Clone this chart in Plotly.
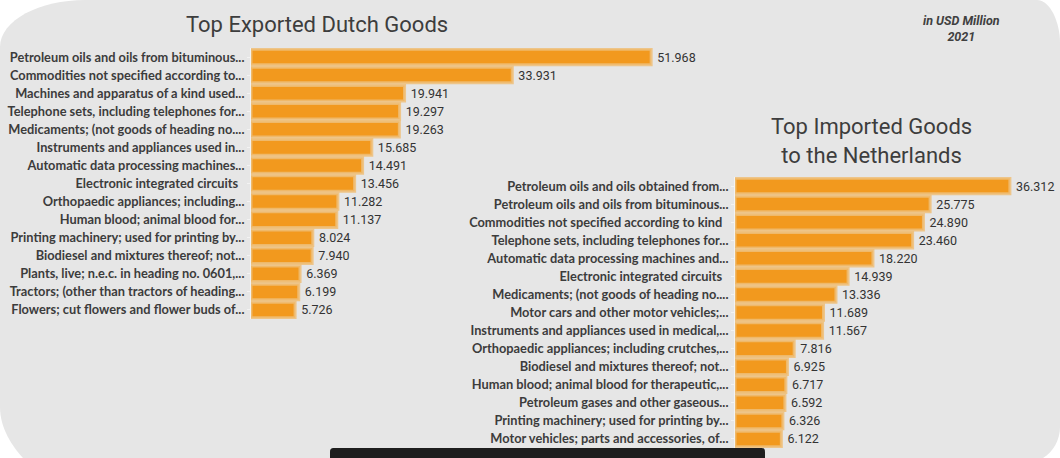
import plotly.graph_objects as go

# ---------------- data ----------------
export_goods = [
    "Petroleum oils and oils from bituminous...",
    "Commodities not specified according to...",
    "Machines and apparatus of a kind used...",
    "Telephone sets, including telephones for...",
    "Medicaments; (not goods of heading no....",
    "Instruments and appliances used in...",
    "Automatic data processing machines...",
    "Electronic integrated circuits\u00a0\u00a0",
    "Orthopaedic appliances; including...",
    "Human blood; animal blood for...",
    "Printing machinery; used for printing by...",
    "Biodiesel and mixtures thereof; not...",
    "Plants, live; n.e.c. in heading no. 0601,...",
    "Tractors; (other than tractors of heading...",
    "Flowers; cut flowers and flower buds of...",
]
export_values = [51.968, 33.931, 19.941, 19.297, 19.263, 15.685, 14.491, 13.456,
                 11.282, 11.137, 8.024, 7.940, 6.369, 6.199, 5.726]

import_goods = [
    "Petroleum oils and oils obtained from...",
    "Petroleum oils and oils from bituminous...",
    "Commodities not specified according to kind\u00a0\u00a0",
    "Telephone sets, including telephones for...",
    "Automatic data processing machines and...",
    "Electronic integrated circuits\u00a0\u00a0",
    "Medicaments; (not goods of heading no....",
    "Motor cars and other motor vehicles;...",
    "Instruments and appliances used in medical,...",
    "Orthopaedic appliances; including crutches,...",
    "Biodiesel and mixtures thereof; not...",
    "Human blood; animal blood for therapeutic,...",
    "Petroleum gases and other gaseous...",
    "Printing machinery; used for printing by...",
    "Motor vehicles; parts and accessories, of...",
]
import_values = [36.312, 25.775, 24.890, 23.460, 18.220, 14.939, 13.336, 11.689,
                 11.567, 7.816, 6.925, 6.717, 6.592, 6.326, 6.122]

title_export = "Top Exported Dutch Goods"
title_import = "Top Imported Goods<br>to the Netherlands"
subtitle_lines = ["in USD Million", "2021"]

# ---------------- styling ----------------
W, H = 1060, 458
BAR = "#F2991E"
GLOW = "rgba(238,190,120,0.85)"
BG = "#E6E6E6"
TXT = "#3C3C3C"


def px(x):
    return x / W


def py(y):
    return 1 - y / H


fig = go.Figure()

common = dict(
    orientation="h",
    marker=dict(color=BAR, line=dict(color=GLOW, width=3)),
    texttemplate="\u00a0%{x:.3f}",
    textposition="outside",
    textfont=dict(family="Roboto", size=12.5, color="#333333"),
    cliponaxis=False,
    hoverinfo="skip",
    showlegend=False,
)

fig.add_trace(go.Bar(x=export_values, y=export_goods, xaxis="x", yaxis="y", **common))
fig.add_trace(go.Bar(x=import_values, y=import_goods, xaxis="x2", yaxis="y2", **common))

xcommon = dict(showgrid=False, zeroline=False, showticklabels=False, showline=False, ticks="", fixedrange=True)
ycommon = dict(type="category", autorange="reversed", showgrid=False, zeroline=False,
               showline=True, linecolor="#F3F3F3", linewidth=1,
               ticks="outside", ticklen=3, tickcolor="#F3F3F3",
               tickfont=dict(family="Lato", size=12.8, color=TXT, weight="bold"),
               ticklabelstandoff=0, fixedrange=True)


def P(x, y):
    return f"{px(x):.5f},{py(y):.5f}"


bg_path = (
    f"M {P(85,0)} L {P(1037,0)} C {P(1050,0)} {P(1060,22)} {P(1060,43)} "
    f"L {P(1060,427)} C {P(1060,440)} {P(1053,452)} {P(1043,458)} "
    f"L {P(23,458)} C {P(12,446)} {P(0,428)} {P(0,407)} "
    f"L {P(0,47)} C {P(0,20)} {P(40,0)} {P(85,0)} Z"
)
black_path = (
    f"M {P(330,458)} L {P(330,452)} C {P(330,449)} {P(331,448)} {P(334,448)} "
    f"L {P(761,448)} C {P(764,448)} {P(765,449)} {P(765,452)} L {P(765,458)} Z"
)

fig.update_layout(
    width=W, height=H,
    margin=dict(l=0, r=0, t=0, b=0),
    paper_bgcolor="white",
    plot_bgcolor="rgba(0,0,0,0)",
    bargap=0.14,
    xaxis=dict(domain=[px(251), px(251 + 7.7 * 60)], range=[0, 60], anchor="y", **xcommon),
    yaxis=dict(domain=[py(319), py(48)], anchor="x", **ycommon),
    xaxis2=dict(domain=[px(735), px(735 + 7.57 * 40)], range=[0, 40], anchor="y2", **xcommon),
    yaxis2=dict(domain=[py(448), py(177)], anchor="x2", **ycommon),
    shapes=[
        dict(type="path", xref="paper", yref="paper", path=bg_path,
             fillcolor=BG, line=dict(width=0), layer="below"),
        dict(type="path", xref="paper", yref="paper", path=black_path,
             fillcolor="#1E1E1E", line=dict(width=0), layer="above"),
    ],
    annotations=[
        dict(text=title_export, x=px(317), y=py(25), xref="paper", yref="paper",
             showarrow=False, xanchor="center", yanchor="middle",
             font=dict(family="Roboto", size=22, color="#3D3D3D")),
        dict(text=title_import, x=px(871), y=py(141), xref="paper", yref="paper",
             showarrow=False, xanchor="center", yanchor="middle",
             font=dict(family="Roboto", size=22, color="#3D3D3D")),
        dict(text="<br>".join(f"<i><b>{s}</b></i>" for s in subtitle_lines),
             x=px(961), y=py(29), xref="paper", yref="paper",
             showarrow=False, xanchor="center", yanchor="middle",
             font=dict(family="Roboto", size=12.5, color="#404040")),
    ],
)

fig.write_html("out.html", config={"displayModeBar": False},
               post_script="document.body.style.margin='0';document.body.style.overflow='hidden';")
